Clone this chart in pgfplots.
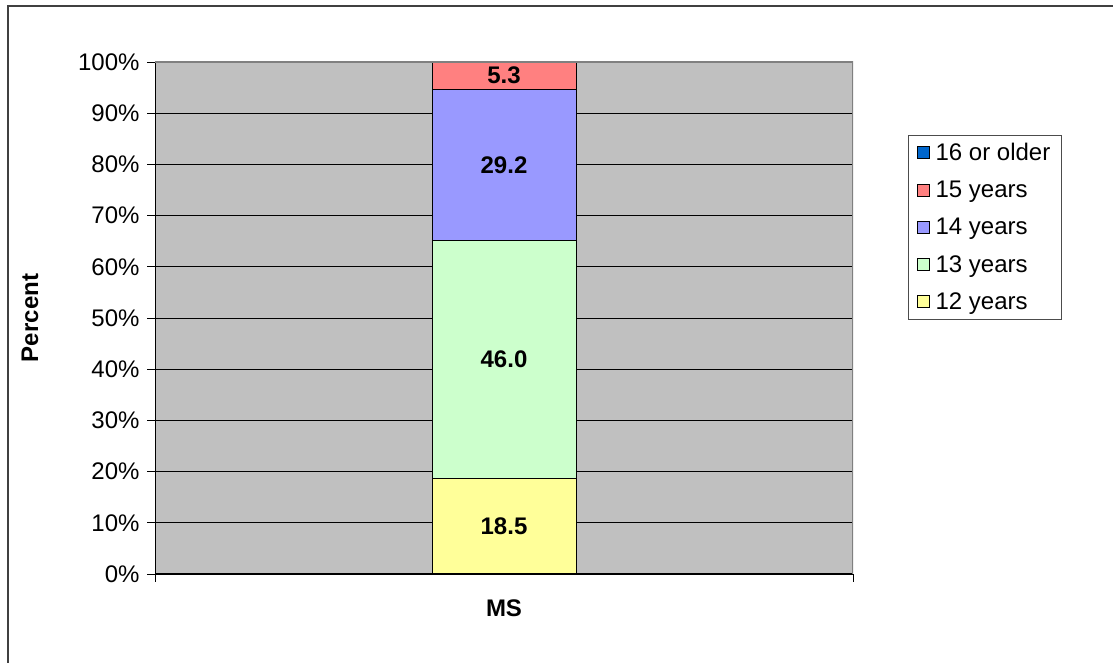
\documentclass[border=0pt]{standalone}
\usepackage{pgfplots}
\pgfplotsset{compat=1.18}
\usepackage{fontspec}
\setmainfont{Liberation Sans}

\definecolor{plotgray}{HTML}{C0C0C0}
\definecolor{frameg}{HTML}{808080}
\definecolor{c12}{HTML}{FFFF99}
\definecolor{c13}{HTML}{CCFFCC}
\definecolor{c14}{HTML}{9999FF}
\definecolor{c15}{HTML}{FF8080}
\definecolor{c16}{HTML}{0066CC}

\newcommand{\cf}{\fontsize{24pt}{28pt}\selectfont}

\begin{document}
\begin{tikzpicture}
\useasboundingbox (0,0) rectangle (1113pt,663pt);
% outer chart frame
\draw[line width=1.2pt, black!75] (8pt,-5pt) -- (8pt,657pt) -- (1120pt,657pt);

% shares of 100% (raw values 18.5, 46.0, 29.2, 5.3 sum to 99.0)
\begin{axis}[
    at={(155pt,89pt)}, anchor=south west,
    scale only axis, width=698pt, height=512pt,
    ybar stacked, bar width=144pt,
    xmin=-0.5, xmax=0.5, ymin=0, ymax=100,
    xtick={-0.5,0.5}, xticklabels={},
    ytick={0,10,...,100},
    yticklabel={\pgfmathprintnumber{\tick}\%},
    /pgf/number format/assume math mode=true,
    tick align=outside, major tick length=8pt,
    xtick pos=bottom, ytick pos=left,
    tick style={black, line width=0.8pt},
    ticklabel style={font=\cf},
    yticklabel style={xshift=-4pt},
    ymajorgrids, grid style={black, line width=0.6pt},
    axis background/.style={fill=plotgray},
    axis line style={draw=none},
    xlabel={\textbf{MS}}, ylabel={\textbf{Percent}},
    label style={font=\cf},
    xlabel style={at={(axis description cs:0.5,-0.0664)}, anchor=center},
    ylabel style={at={(axis description cs:-0.179,0.5)}, anchor=center},
    reverse legend,
    legend style={at={(1.0788,0.857)}, anchor=north west, draw=black!70,
        fill=white, font=\cf, row sep=15pt, inner xsep=9pt, inner ysep=6pt,
        cells={anchor=west}},
    legend image code/.code={\draw[#1, draw=black, line width=0.8pt] (0pt,-6pt) rectangle (12pt,6pt); \path[draw=none, fill=none] (0pt,0pt) -- (16pt,0pt);},
]
\draw[frameg, line width=1.5pt] (rel axis cs:0,1) -- (rel axis cs:1,1) -- (rel axis cs:1,0);
\draw[black, line width=1pt] (rel axis cs:0,1) -- (rel axis cs:0,0) -- (rel axis cs:1,0);
\addplot[fill=c12, draw=black, line width=1pt] coordinates {(0,18.687)};
\addplot[fill=c13, draw=black, line width=1pt] coordinates {(0,46.465)};
\addplot[fill=c14, draw=black, line width=1pt] coordinates {(0,29.495)};
\addplot[fill=c15, draw=black, line width=1pt] coordinates {(0,5.353)};
\addplot[fill=c16, draw=black, line width=1pt] coordinates {(0,0)};
\legend{12 years, 13 years, 14 years, 15 years, 16 or older}
\end{axis}

% segment labels, centred in each segment
\begin{axis}[
    at={(155pt,89pt)}, anchor=south west,
    scale only axis, width=698pt, height=512pt,
    xmin=-0.5, xmax=0.5, ymin=0, ymax=100,
    hide axis,
]
\addplot[draw=none, mark=none, nodes near coords, point meta=explicit symbolic,
    nodes near coords style={anchor=center, font=\cf\bfseries}]
    coordinates {(0,9.34)[18.5] (0,41.92)[46.0] (0,79.90)[29.2] (0,97.32)[5.3]};
\end{axis}
\end{tikzpicture}
\end{document}
